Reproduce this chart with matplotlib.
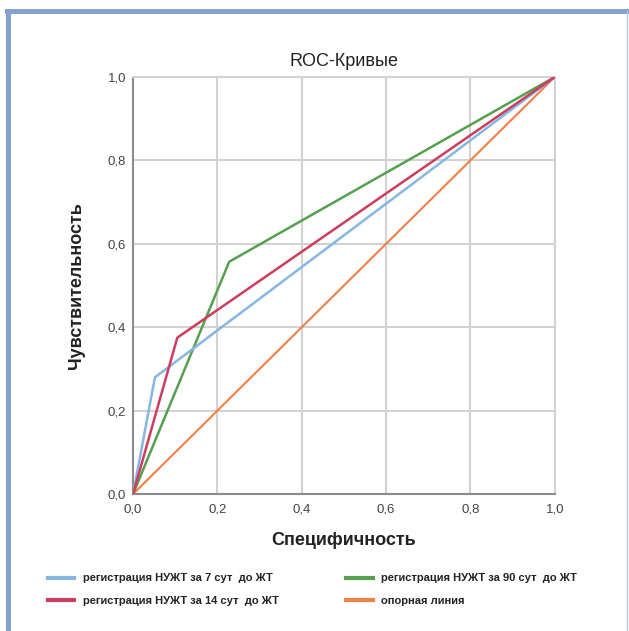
import matplotlib.pyplot as plt
from matplotlib.lines import Line2D
from matplotlib.ticker import FuncFormatter

# данные ROC-кривых (1 - специфичность, чувствительность)
x7 = [0.0, 0.052, 1.0]
y7 = [0.0, 0.28, 1.0]
x14 = [0.0, 0.105, 1.0]
y14 = [0.0, 0.375, 1.0]
x90 = [0.0, 0.228, 1.0]
y90 = [0.0, 0.557, 1.0]
xref = [0.0, 1.0]
yref = [0.0, 1.0]

labels = ['регистрация НУЖТ за 7 сут  до ЖТ',
          'регистрация НУЖТ за 14 сут  до ЖТ',
          'регистрация НУЖТ за 90 сут  до ЖТ',
          'опорная линия']
colors = ['#86b6e3', '#cc3d5e', '#55a04f', '#f08048']
ticks = [0.0, 0.2, 0.4, 0.6, 0.8, 1.0]

plt.rcParams['font.family'] = ['Liberation Sans', 'DejaVu Sans']

fig = plt.figure(figsize=(6.29, 6.31), dpi=100)
ax = fig.add_axes([0.2115, 0.217, 0.6705, 0.661])

ax.plot(xref, yref, color=colors[3], lw=1.5, zorder=3)
ax.plot(x90, y90, color=colors[2], lw=1.8, zorder=4)
ax.plot(x7, y7, color=colors[0], lw=1.8, zorder=5)
ax.plot(x14, y14, color=colors[1], lw=1.8, zorder=6)

ax.set_xlim(0, 1)
ax.set_ylim(0, 1)
ax.set_xticks(ticks)
ax.set_yticks(ticks)
fmt = FuncFormatter(lambda v, p: f'{v:.1f}'.replace('.', ','))
ax.xaxis.set_major_formatter(fmt)
ax.yaxis.set_major_formatter(fmt)
ax.tick_params(length=0, labelsize=9.5, colors='#444444')
ax.tick_params(axis='x', pad=7)
ax.tick_params(axis='y', pad=5)
ax.grid(True, color='#d2d2d2', lw=1.5, zorder=1)
ax.set_axisbelow(True)
for s in ['top', 'right']:
    ax.spines[s].set_color('#d2d2d2')
    ax.spines[s].set_linewidth(1.5)
for s in ['left', 'bottom']:
    ax.spines[s].set_color('#8c8c8c')
    ax.spines[s].set_linewidth(1.5)

ax.set_title('ROC-Кривые', fontsize=13, color='#222222', pad=8)
ax.set_xlabel('Специфичность', fontsize=13, fontweight='bold', color='#222222', labelpad=12)
ax.set_ylabel('Чувствительность', fontsize=13, fontweight='bold', color='#222222', labelpad=16)

handles = [Line2D([0], [0], color=c, lw=3) for c in colors]
fig.legend(handles, labels,
           loc='upper left', bbox_to_anchor=(0.06, 0.107), ncol=2, frameon=False,
           prop={'size': 8, 'weight': 'bold'}, handlelength=2.4, handletextpad=0.8,
           columnspacing=6.0, labelspacing=1.1, labelcolor='#222222')

# рамка слайда
fig.add_artist(Line2D([0.0135, 0.0135], [0.0, 0.982], color='#84a2d0', lw=3.6, transform=fig.transFigure))
fig.add_artist(Line2D([0.0105, 1.0], [0.982, 0.982], color='#84a2d0', lw=3.6, transform=fig.transFigure))
fig.add_artist(Line2D([0.997, 0.997], [0.0, 0.982], color='#b8c8e6', lw=1, transform=fig.transFigure))

fig.savefig('out.png', dpi=100, facecolor='white')
